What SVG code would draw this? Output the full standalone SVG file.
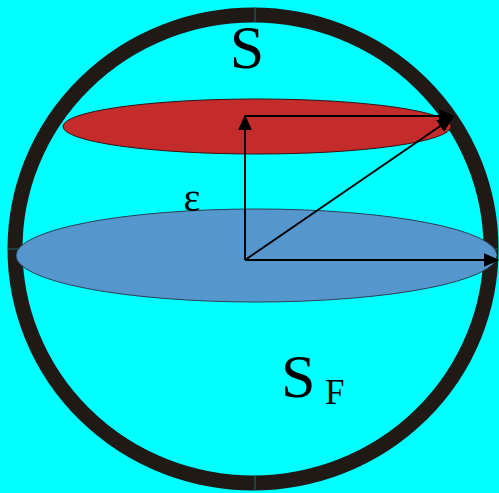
<svg xmlns="http://www.w3.org/2000/svg" width="499" height="493" viewBox="0 0 499 493">
<defs>
<style>
.lbl{font-family:"Liberation Serif","Times New Roman",serif;fill:#000}
.arr{stroke:#000;stroke-width:2;fill:none}
.seam{stroke:#1d6b6b;stroke-width:1}
</style>
<marker id="ah" viewBox="0 0 10 10" refX="9" refY="5" markerWidth="8" markerHeight="8" orient="auto" markerUnits="userSpaceOnUse">
<path d="M0,0 L10,5 L0,10 Z" fill="#000"/>
</marker>
<marker id="ahb" viewBox="0 0 10 10" refX="9" refY="5" markerWidth="16" markerHeight="14" orient="auto" markerUnits="userSpaceOnUse" preserveAspectRatio="none">
<path d="M0,0 L10,5 L0,10 Z" fill="#000"/>
</marker>
</defs>
<rect width="499" height="493" fill="#00ffff"/>
<g id="sphere">
<ellipse cx="253" cy="249" rx="238" ry="234" fill="none" stroke="#201a17" stroke-width="15"/>
<line class="seam" x1="255" y1="7" x2="255" y2="23"/>
<line class="seam" x1="255" y1="475" x2="255" y2="491"/>
<line class="seam" x1="8" y1="249" x2="23" y2="249"/>
<line class="seam" x1="483" y1="249" x2="499" y2="249"/>
</g>
<g id="red-disc">
<ellipse cx="257" cy="126.5" rx="194" ry="27.5" fill="#c42c2b" stroke="#3a1010" stroke-width="1"/>
</g>
<g id="blue-disc">
<ellipse cx="256.5" cy="255.5" rx="240.5" ry="46.5" fill="#5597cd" stroke="#2a3f55" stroke-width="1"/>
</g>
<g id="connectors">
<line class="arr" x1="245" y1="260" x2="245" y2="116" marker-end="url(#ahb)"/>
<line class="arr" x1="245" y1="116" x2="453" y2="116" marker-end="url(#ahb)"/>
<line class="arr" x1="245" y1="260" x2="452" y2="118" marker-end="url(#ahb)"/>
<line class="arr" x1="245" y1="260" x2="498" y2="260" marker-end="url(#ahb)"/>
</g>
<g id="labels">
<text class="lbl" x="247" y="68" font-size="62" text-anchor="middle">S</text>
<text class="lbl" x="192" y="211" font-size="40" text-anchor="middle">ε</text>
<text class="lbl" x="281" y="397" font-size="62">S</text>
<text class="lbl" x="325" y="404" font-size="35">F</text>
</g>
</svg>
